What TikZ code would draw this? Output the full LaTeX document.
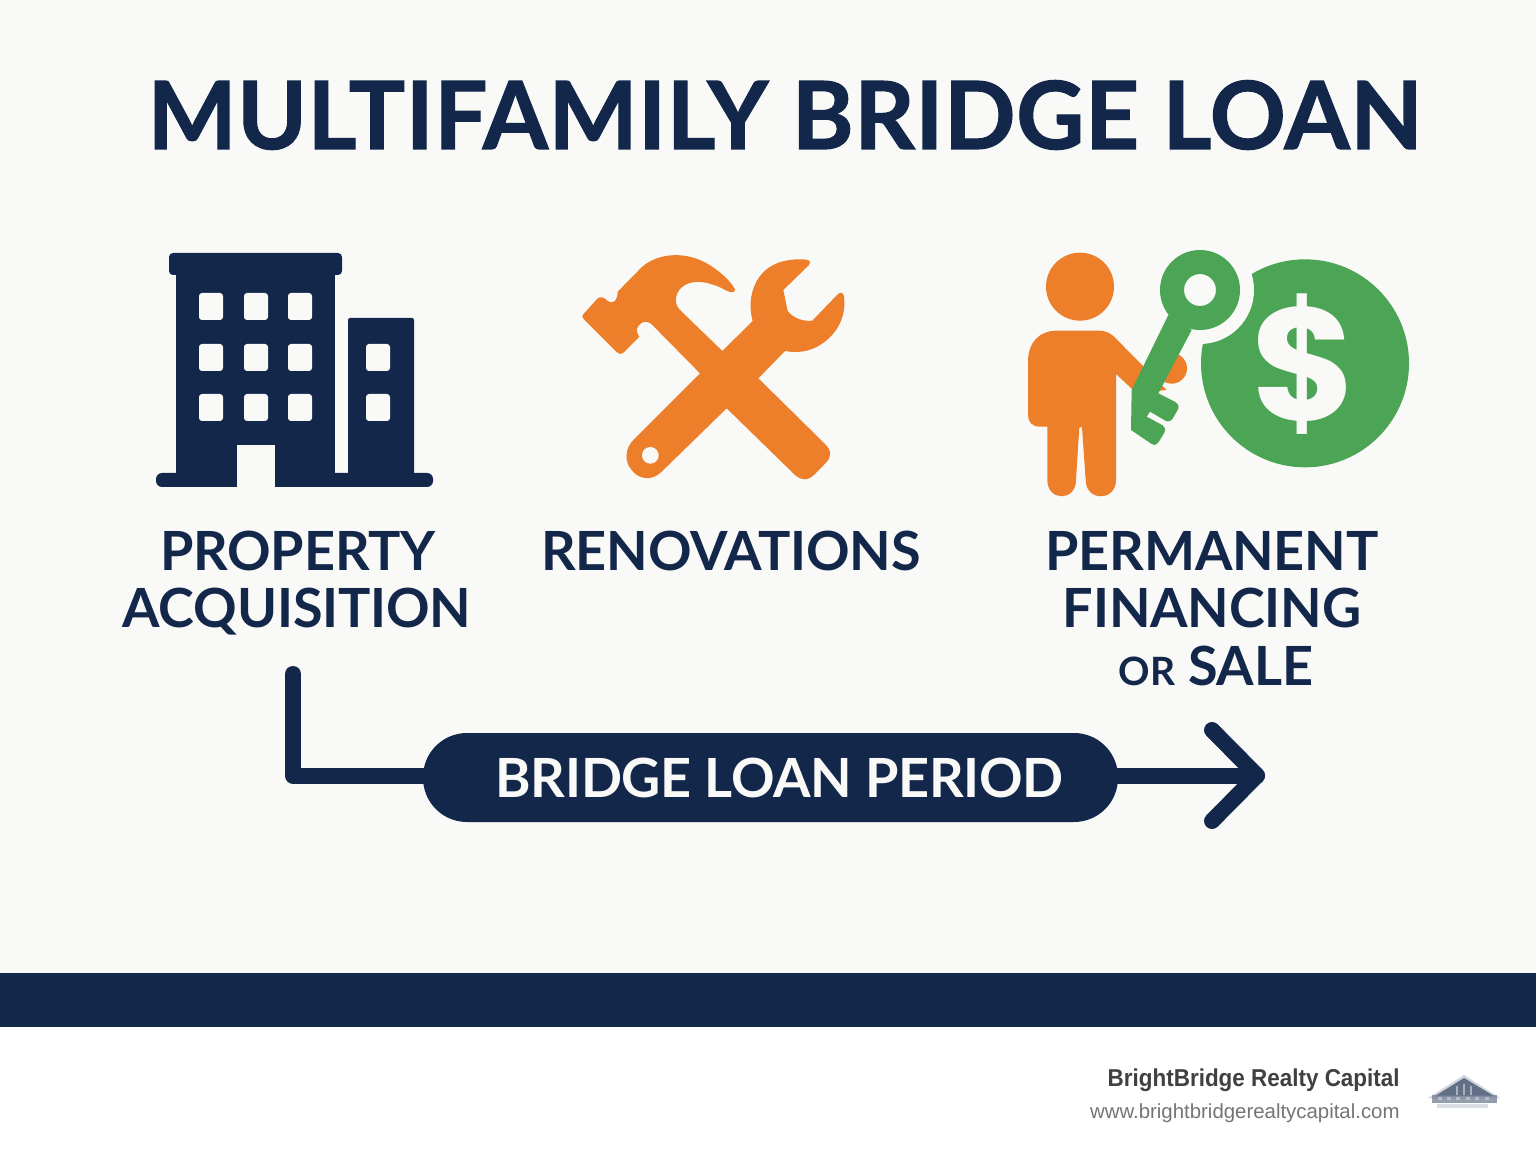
\documentclass[tikz,border=0pt]{standalone}
\usepackage{fontspec}
\setmainfont{Lato}
\newfontfamily\titlefont[BoldFeatures={FakeBold=1.2},LetterSpace=0.7]{Lato}
\newfontfamily\labelfont[LetterSpace=-0.3]{Lato}
\newfontfamily\pillfont[LetterSpace=-0.5]{Lato}
\newfontfamily\footfont{Liberation Sans}
\newfontfamily\brandfont[FakeStretch=0.92]{Liberation Sans}
\newfontfamily\dollarfont{Poppins}
\definecolor{navy}{HTML}{12274A}
\definecolor{paper}{HTML}{F9F9F7}
\definecolor{tool}{HTML}{EE7F2A}
\definecolor{money}{HTML}{4BA555}
\definecolor{darktxt}{HTML}{404040}
\definecolor{greytxt}{HTML}{757575}
\tikzset{
  labeltext/.style={text=navy,font=\labelfont\fontsize{27}{28.5}\selectfont\bfseries,align=center,inner sep=0pt},
  windowbox/.style={fill=paper,rounded corners=1.5pt},
  linkline/.style={draw=navy,line width=8pt,line join=round,line cap=round},
}
\begin{document}
\begin{tikzpicture}[x=0.5pt,y=-0.5pt]
\useasboundingbox (0,0) rectangle (1536,1154);
\fill[white] (0,0) rectangle (1536,1154);
\fill[paper] (0,0) rectangle (1536,973);
\fill[navy] (0,973) rectangle (1536,1027);
% title
\node[anchor=base,inner sep=0pt,text=navy,font=\titlefont\fontsize{47}{50}\selectfont\bfseries] (title) at (785,149) {MULTIFAMILY BRIDGE LOAN};
% building
\fill[navy,rounded corners=2pt] (169,253) rectangle (342,275);
\fill[navy] (176,270) rectangle (335,480);
\fill[navy,rounded corners=1pt] (348,318) rectangle (414,480);
\fill[navy,rounded corners=3pt] (156,473) rectangle (433,487);
\fill[paper] (237,445) rectangle (275,488);
\foreach \wx in {199,244,288}{\foreach \wy in {293,344,394}{
  \fill[windowbox] (\wx,\wy) rectangle ++(24,27);}}
\foreach \wy in {344,394}{
  \fill[windowbox] (366,\wy) rectangle ++(24,27);}
% hammer and wrench
\begin{scope}[shift={(570,240)},x=0.16667pt,y=-0.16667pt]
\fill[tool] (38,225) -- (82,176) .. controls (92,168) and (102,172) .. (112,182)
  .. controls (124,194) and (143,186) .. (143,155)
  -- (205,92) .. controls (250,40) and (340,30) .. (410,70)
  .. controls (445,90) and (480,120) .. (495,148)
  .. controls (494,158) and (486,160) .. (470,152)
  .. controls (420,125) and (375,118) .. (345,135)
  .. controls (318,150) and (308,185) .. (328,208)
  -- (457,333) -- (548,243)
  .. controls (530,180) and (550,105) .. (610,75)
  .. controls (640,58) and (690,55) .. (715,60)
  .. controls (722,64) and (722,70) .. (716,76)
  -- (640,150) -- (653,213) .. controls (670,235) and (700,245) .. (727,242)
  -- (803,163) .. controls (812,155) and (820,157) .. (822,170)
  .. controls (830,230) and (800,285) .. (750,315)
  .. controls (720,335) and (680,340) .. (645,333)
  -- (565,415) -- (765,612) .. controls (785,632) and (785,650) .. (768,668)
  -- (735,702) .. controls (712,724) and (695,722) .. (675,705)
  -- (470,505) -- (275,695) .. controls (245,725) and (205,718) .. (185,690)
  .. controls (162,665) and (165,625) .. (190,600)
  -- (390,400) -- (250,258) .. controls (235,240) and (215,242) .. (205,258)
  .. controls (198,268) and (200,278) .. (208,290)
  -- (160,338) .. controls (152,344) and (146,342) .. (140,336)
  -- (42,238) .. controls (36,232) and (36,230) .. (38,225) -- cycle;
\fill[paper] (241,646) circle[radius=25];
\end{scope}
% person, key, coin
\begin{scope}[shift={(1020,240)},x=0.16667pt,y=-0.16667pt]
\fill[tool] (180,140) circle[radius=102];
\fill[tool] (455,385) circle[radius=46];
\fill[tool] (110,272) -- (235,272) .. controls (262,272) and (275,282) .. (290,298)
  -- (440,450) -- (350,460) -- (288,402) -- (288,720)
  .. controls (288,785) and (197,785) .. (197,720)
  -- (186,562) -- (178,562) -- (168,720)
  .. controls (168,785) and (82,785) .. (82,720)
  -- (82,560) -- (60,560) .. controls (35,560) and (24,545) .. (24,525)
  -- (24,365) .. controls (24,305) and (60,272) .. (110,272) -- cycle;
\fill[money] (855,370) circle[radius=312];
\fill[paper] (540,150) circle[radius=162];
\node[text=paper,inner sep=0pt,font=\dollarfont\fontsize{80}{90}\selectfont\bfseries] (dollar) at (852,372) {\$};
\fill[money,even odd rule] (540,150) circle[radius=120] (540,150) circle[radius=48];
\fill[money] (445,225) -- (335,450) -- (333,570) -- (395,612) .. controls (405,618) and (412,612) .. (416,606)
  -- (433,578) .. controls (438,568) and (434,560) .. (428,556)
  -- (380,530) -- (390,515) -- (436,542) .. controls (446,546) and (452,544) .. (458,536)
  -- (474,508) .. controls (478,498) and (474,490) .. (466,486)
  -- (415,460) -- (515,270) -- cycle;
\end{scope}
% labels
\node[labeltext,anchor=base] (acq1) at (298,570) {PROPERTY};
\node[labeltext,anchor=base] (acq2) at (297,627) {ACQUISITION};
\node[labeltext,anchor=base] (reno) at (731,570) {RENOVATIONS};
\node[labeltext,anchor=base] (perm1) at (1212,570) {PERMANENT};
\node[labeltext,anchor=base] (perm2) at (1212,627) {FINANCING};
\node[labeltext,anchor=base] (perm3) at (1216,685) {{\fontsize{19.5}{20}\selectfont OR} SALE};
% bridge period
\coordinate (start) at (293,674);
\coordinate (elbow) at (293,775.5);
\coordinate (tip) at (1257,775.5);
\coordinate (barbA) at (1212,730);
\coordinate (barbB) at (1212,821);
\node[fill=navy,text=paper,rounded corners=22pt,minimum width=347.5pt,minimum height=44.5pt,inner sep=0pt,font=\pillfont\fontsize{27}{28}\selectfont\bfseries] (pill) at (770.5,777.5) {\hspace*{9pt}\raisebox{-1.2pt}{BRIDGE LOAN PERIOD}};
\draw[linkline] (start) -- (elbow) -- (elbow -| pill.west);
\draw[linkline] (pill.east |- tip) -- (tip);
\draw[linkline] (barbA) -- (tip) -- (barbB);
% footer
\node[anchor=base east,inner sep=0pt,text=darktxt,font=\brandfont\fontsize{12.2}{14}\selectfont\bfseries] (brand) at (1400,1086) {BrightBridge Realty Capital};
\node[anchor=base east,inner sep=0pt,text=greytxt,font=\footfont\fontsize{10.2}{12}\selectfont] (url) at (1400,1118) {www.brightbridgerealtycapital.com};
% logo
\fill[navy!78!white,opacity=.25] (1464,1075) -- (1500,1098) -- (1428,1098) -- cycle;
\fill[navy!78!white,opacity=.8] (1464,1078) -- (1494,1096) -- (1435,1096) -- cycle;
\fill[white,opacity=.45] (1456,1086) rectangle (1458,1095);
\fill[white,opacity=.45] (1463,1084) rectangle (1465,1095);
\fill[white,opacity=.45] (1470,1086) rectangle (1472,1095);
\fill[navy!60!white,opacity=.75] (1432,1095) rectangle (1497,1103);
\foreach \bx in {1438,1447,1456,1466,1475,1485}{\fill[white,opacity=.35] (\bx,1097) rectangle ++(4,3);}
\fill[navy!25!white,opacity=.6] (1437,1104) rectangle (1488,1108);
\end{tikzpicture}
\end{document}
